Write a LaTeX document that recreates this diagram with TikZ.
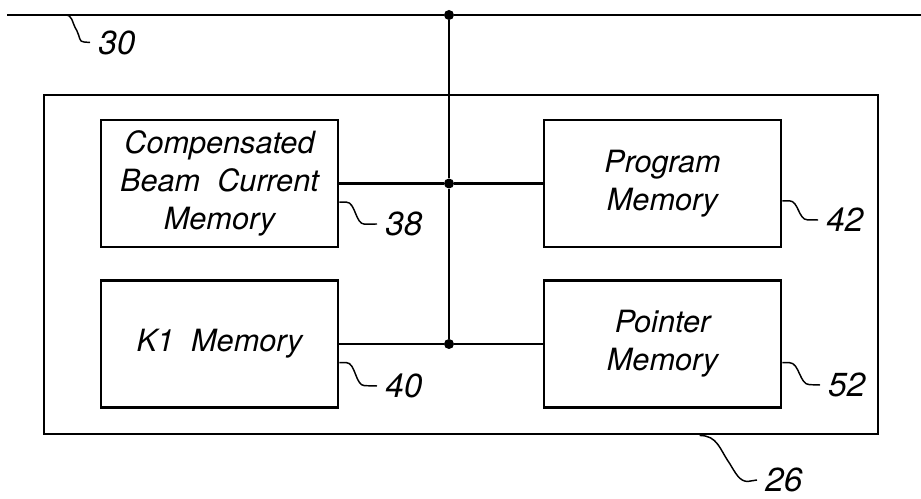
\documentclass[tikz,border=0pt]{standalone}
\usepackage{fontspec}
\setmainfont{TeX Gyre Heros}
\begin{document}
\begin{tikzpicture}[x=0.75pt, y=0.75pt,
  every node/.style={font=\fontsize{23}{28.5}\selectfont\itshape},
  memblock/.style={draw, line width=2.2pt, minimum width=177.75pt, minimum height=95.25pt, align=center, inner sep=0pt},
  dot/.style={circle, fill=black, inner sep=0pt, minimum size=7.5pt},
  wire/.style={line width=1.6pt},
  leader/.style={line width=1.1pt},
  refnum/.style={anchor=west, inner sep=0pt, inner xsep=6pt, font=\fontsize{25}{28}\selectfont\itshape}]

\useasboundingbox (0,0) rectangle (921,499);

% ---- bus 30 ----
\coordinate (busL) at (7,484);
\coordinate (busR) at (921,484);
\coordinate (t30) at (65,484);
\node[dot] (jtop) at (449,484) {};
\draw[wire] (busL) -- (jtop) -- (busR);

% ---- unit 26 ----
\node[draw, line width=2.2pt, minimum width=625.5pt, minimum height=254.25pt] (unit) at (461,234.5) {};

% ---- memories ----
\node[memblock] (cbcm) at (219.5,315.5) {Compensated\\Beam\ \ Current\\Memory};
\node[memblock] (prog) at (662.5,315.5) {Program\\Memory};
\node[memblock] (kone) at (219.5,155) {K1\ \ Memory};
\node[memblock] (ptr) at (662.5,155) {Pointer\\Memory};

% ---- connections ----
\node[dot] (jmid) at (449,315.5) {};
\node[dot] (jbot) at (449,155) {};
\draw[wire] (jtop) -- (jmid) -- (jbot);
\draw[wire] (cbcm) -- (jmid) -- (prog);
\draw[wire] (kone) -- (jbot) -- (ptr);

% ---- reference numerals ----
\node[refnum] (l30) at (90,456.5) {30};
\node[refnum] (l38) at (377,275) {38};
\node[refnum] (l42) at (818,279) {42};
\node[refnum] (l40) at (377,113) {40};
\node[refnum] (l52) at (820,114) {52};
\node[refnum] (l26) at (757,19) {26};

\draw[leader] (t30) .. controls +(8,0) and +(-6,10) .. ++(12,-16)
  .. controls +(3,-6) and +(-5,0) .. ++(7,-11) -- (l30.west);
\draw[leader] ([yshift=-14pt]cbcm.east) -- ++(7,0)
  .. controls +(9,0) and +(-9,0) .. ++(18,-22) -- (l38.west);
\draw[leader] ([yshift=-13pt]prog.east) -- ++(7,0)
  .. controls +(9,0) and +(-9,0) .. ++(18,-19) -- (l42.west);
\draw[leader] ([yshift=-14pt]kone.east) -- ++(7,0)
  .. controls +(9,0) and +(-9,0) .. ++(18,-23) -- (l40.west);
\draw[leader] ([yshift=-14pt]ptr.east) -- ++(7,0)
  .. controls +(10,0) and +(-10,0) .. ++(20,-22) -- (l52.west);
\draw[leader] ([xshift=179pt]unit.south) .. controls +(18,0) and +(-10,14) .. ++(30,-28)
  .. controls +(6,-10) and +(-8,0) .. ++(18,-18) -- (l26.west);

\end{tikzpicture}
\end{document}
